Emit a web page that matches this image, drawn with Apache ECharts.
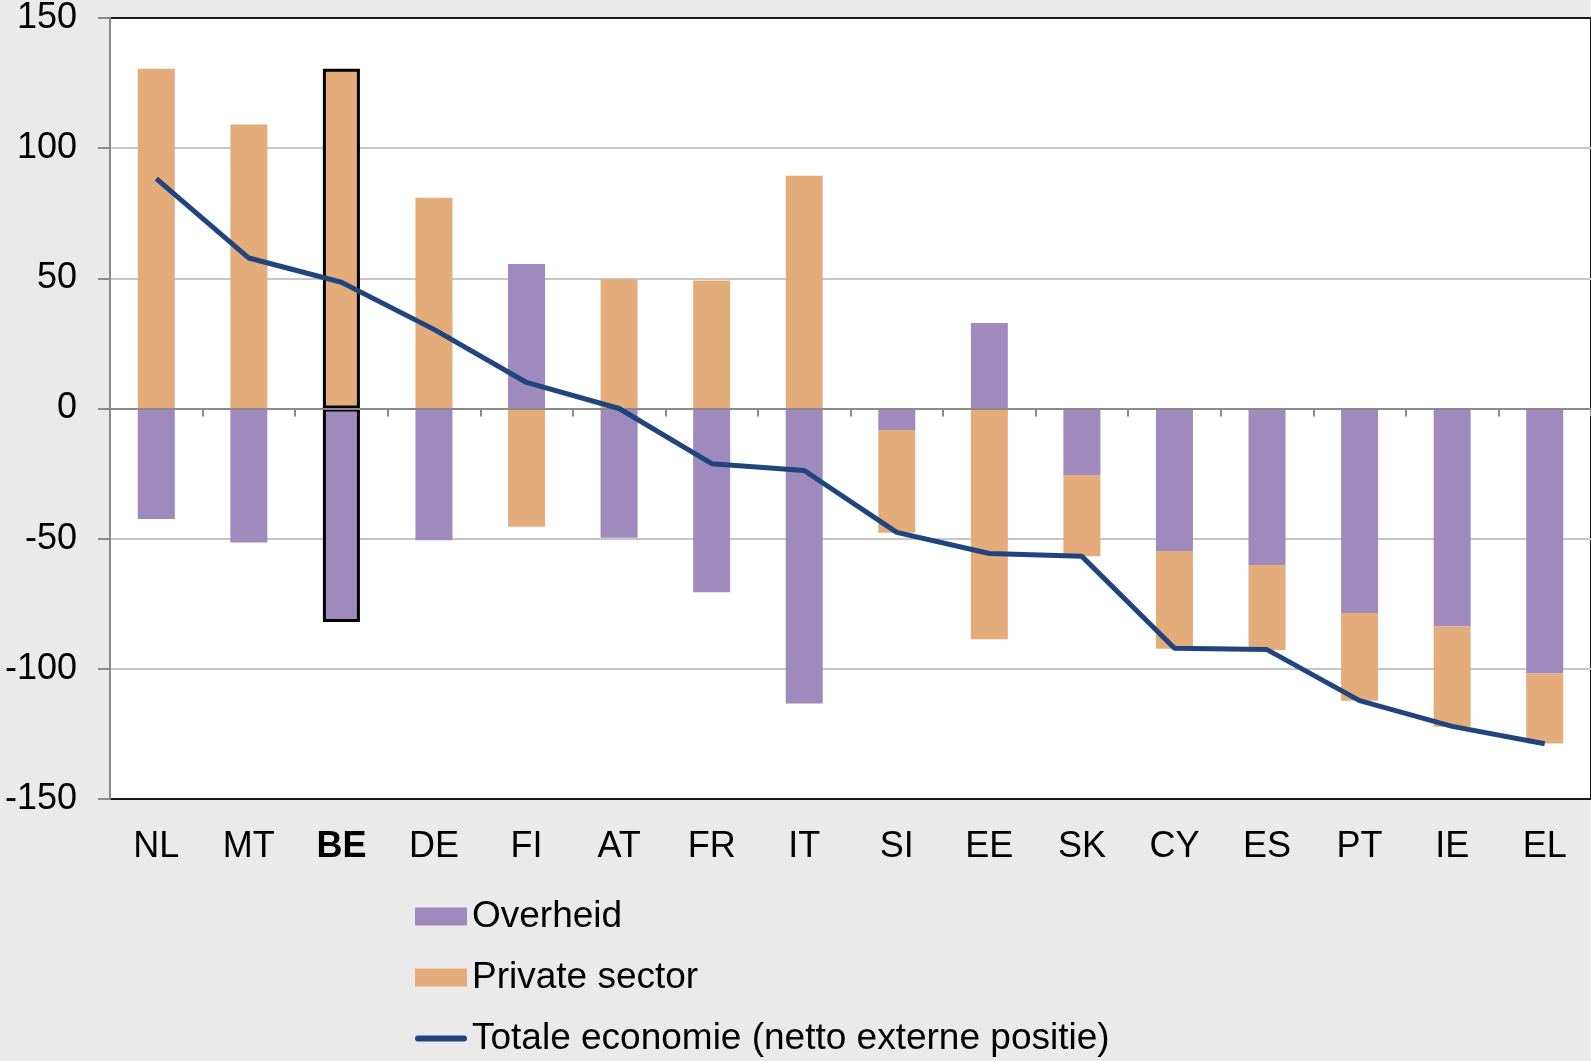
<!DOCTYPE html>
<html lang="nl">
<head>
	<meta charset="UTF-8">
	<title>Netto externe positie</title>
	<style>
		html,body{
			margin:0px;
			padding:0px;
			background:#EAEAEA;
			overflow:hidden;
		}
		#chart{
			width:1591px;
			height:1061px;
		}
	</style>
</head>
<body>
	<div id="chart"></div>
	<script type="text/javascript" src="https://cdn.jsdelivr.net/npm/echarts@6/dist/echarts.min.js"></script>
	<script type="text/javascript">
	var categories = ['NL','MT','BE','DE','FI','AT','FR','IT','SI','EE','SK','CY','ES','PT','IE','EL'];
	var overheid = [-42.4,-51.5,-82,-50.6,55.5,-49.6,-70.6,-113.3,-8.3,32.8,-25.5,-54.7,-60.1,-78.6,-83.7,-101.8];
	var privateSector = [130.5,109.1,130.5,81,-45.4,49.6,49.2,89.4,-39.4,-88.6,-31.3,-37.6,-32.7,-33.7,-38.5,-26.9];
	var totaal = [88.3,57.8,48.5,30.4,10.0,0,-21.2,-23.8,-47.6,-55.7,-56.8,-92.1,-92.6,-112.2,-122.1,-128.8];
	var yMin = -150, yMax = 150, yStep = 50;
	var highlight = 'BE';

	var font = '"Liberation Sans", Arial, sans-serif';
	var lineColor = '#21447F';

	// BE krijgt een zwarte rand
	function mark(values){
		return values.map(function(v, i){
			if(categories[i] === highlight){
				return {value: v, itemStyle: {borderColor: '#000', borderWidth: 3}};
			}
			return v;
		});
	}

	var option = {
		backgroundColor: '#EAEAEA',
		animation: false,
		grid: {
			left: 110,
			top: 18,
			right: -2,
			bottom: 262,
			show: true,
			backgroundColor: '#fff',
			borderColor: '#1a1a1a',
			borderWidth: 2
		},
		legend: {
			orient: 'vertical',
			left: 415,
			top: 896,
			padding: 0,
			itemWidth: 52,
			itemHeight: 18,
			itemGap: 20,
			textStyle: {
				fontFamily: font,
				fontSize: 37,
				lineHeight: 41,
				color: '#000'
			},
			data: [
				{name: 'Overheid', icon: 'rect'},
				{name: 'Private sector', icon: 'rect'},
				{name: 'Totale economie (netto externe positie)', icon: 'path://M3,0 L49,0 A3,3 0 0 1 49,6 L3,6 A3,3 0 0 1 3,0 Z', itemStyle: {color: lineColor}}
			]
		},
		xAxis: [{
			type: 'category',
			data: categories,
			position: 'bottom',
			axisLine: {onZero: true, lineStyle: {color: '#8a8a8a', width: 2}},
			axisTick: {show: true, length: 8, lineStyle: {color: '#8a8a8a', width: 2}},
			axisLabel: {show: false},
			z: 3
		}, {
			type: 'category',
			data: categories,
			position: 'bottom',
			axisLine: {show: false, onZero: false},
			axisTick: {show: false},
			axisLabel: {
				interval: 0,
				margin: 30,
				fontFamily: font,
				fontSize: 36,
				color: '#000',
				formatter: function(v){
					return v === highlight ? '{b|' + v + '}' : v;
				},
				rich: {
					b: {fontFamily: font, fontSize: 36, fontWeight: 'bold', color: '#000'}
				}
			}
		}],
		yAxis: {
			type: 'value',
			min: yMin,
			max: yMax,
			interval: yStep,
			axisLine: {show: true, lineStyle: {color: '#8a8a8a', width: 2}},
			axisTick: {show: true, length: 12, lineStyle: {color: '#8a8a8a', width: 2}},
			axisLabel: {
				margin: 33,
				fontFamily: font,
				fontSize: 36,
				color: '#000'
			},
			splitLine: {
				showMinLine: false,
				showMaxLine: false,
				lineStyle: {color: '#c6c6c6', width: 2}
			}
		},
		series: [{
			name: 'Overheid',
			type: 'bar',
			stack: 'sector',
			barWidth: 37,
			itemStyle: {color: '#9E8ABD'},
			data: mark(overheid)
		}, {
			name: 'Private sector',
			type: 'bar',
			stack: 'sector',
			barWidth: 37,
			itemStyle: {color: '#E4AC7B'},
			data: mark(privateSector)
		}, {
			name: 'Totale economie (netto externe positie)',
			type: 'line',
			symbol: 'none',
			z: 5,
			lineStyle: {color: lineColor, width: 5},
			itemStyle: {color: lineColor},
			data: totaal
		}]
	};

	var myChart = echarts.init(document.getElementById('chart'));
	myChart.setOption(option);
	</script>
</body>
</html>
